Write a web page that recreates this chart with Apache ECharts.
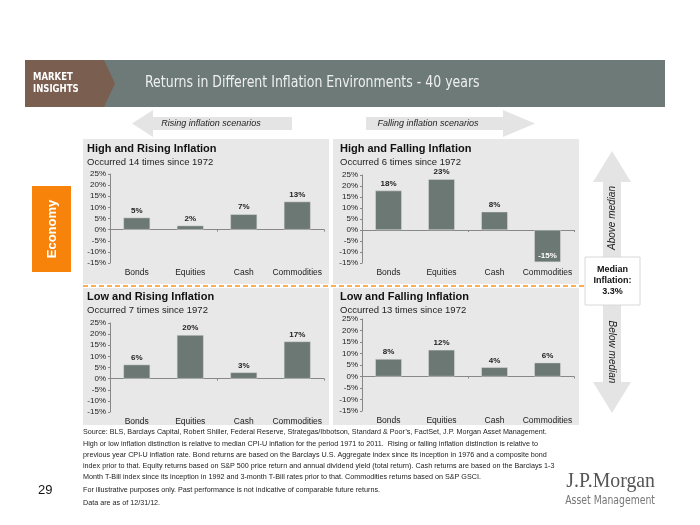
<!DOCTYPE html>
<html>
<head>
<meta charset="utf-8">
<script src="https://cdn.jsdelivr.net/npm/echarts@6.0.0/dist/echarts.min.js"></script>
<style>
  html, body { margin: 0; padding: 0; background: #fff; }
  #root { width: 700px; height: 525px; }
</style>
</head>
<body>
<div id="root"></div>
<script>
// data
var categories = ['Bonds', 'Equities', 'Cash', 'Commodities'];
var highRising = [5.4, 1.8, 6.9, 12.6];
var highFalling = [17.9, 23.1, 8.3, -14.6];
var lowRising = [6.3, 19.6, 2.8, 16.7];
var lowFalling = [7.6, 11.6, 4.0, 6.0];
var panelTitles = ['High and Rising Inflation', 'High and Falling Inflation', 'Low and Rising Inflation', 'Low and Falling Inflation'];
var panelSubs = ['Occurred 14 times since 1972', 'Occurred 6 times since 1972', 'Occurred 7 times since 1972', 'Occurred 13 times since 1972'];
var yMin = -15, yMax = 25, yStep = 5;

var footLines = [
  'Source: BLS, Barclays Capital, Robert Shiller, Federal Reserve, Strategas/Ibbotson, Standard & Poor\u2019s, FactSet, J.P. Morgan Asset Management.',
  'High or low inflation distinction is relative to median CPI-U inflation for the period 1971 to 2011.  Rising or falling inflation distinction is relative to',
  'previous year CPI-U inflation rate. Bond returns are based on the Barclays U.S. Aggregate index since its inception in 1976 and a composite bond',
  'index prior to that. Equity returns based on S&P 500 price return and annual dividend yield (total return). Cash returns are based on the Barclays 1-3',
  'Month T-Bill index since its inception in 1992 and 3-month T-Bill rates prior to that. Commodities returns based on S&P GSCI.',
  'For illustrative purposes only. Past performance is not indicative of comparable future returns.',
  'Data are as of 12/31/12.'
];

var FONT = 'Liberation Sans, Arial, sans-serif';
var NARROW = 'DejaVu Sans Condensed, sans-serif';
var BAR = '#6c7874';
var PANEL_BG = '#e8e8e8';

var chart = echarts.init(document.getElementById('root'));

// panel boxes and plot areas
var panels = [
  { x: 83, y: 139, w: 246, h: 145, grid: { left: 110, top: 174, width: 214, height: 89 } },
  { x: 333, y: 139, w: 246, h: 145, grid: { left: 362, top: 175, width: 212, height: 88 } },
  { x: 83, y: 288, w: 246, h: 137, grid: { left: 110, top: 323, width: 214, height: 89 } },
  { x: 333, y: 288, w: 246, h: 137, grid: { left: 362, top: 319, width: 212, height: 92 } }
];
var seriesData = [highRising, highFalling, lowRising, lowFalling];

var grids = [], xAxes = [], yAxes = [], series = [];
panels.forEach(function (p, i) {
  grids.push(p.grid);
  // labelled category axis at the bottom
  xAxes.push({
    type: 'category', gridIndex: i, data: categories, position: 'bottom',
    axisLine: { show: false, onZero: false }, axisTick: { show: false },
    axisLabel: { interval: 0, fontFamily: FONT, fontSize: 8.5, color: '#222', margin: 5 }
  });
  // zero line with ticks
  xAxes.push({
    type: 'category', gridIndex: i, data: categories, position: 'bottom',
    axisLine: { show: true, onZero: true, lineStyle: { color: '#888', width: 1 } },
    axisTick: { show: true, length: 2, lineStyle: { color: '#888' } },
    axisLabel: { show: false }
  });
  yAxes.push({
    type: 'value', gridIndex: i, min: yMin, max: yMax, interval: yStep,
    axisLine: { show: true, lineStyle: { color: '#888' } },
    axisTick: { show: true, length: 2, lineStyle: { color: '#888' } },
    splitLine: { show: false },
    axisLabel: { fontFamily: FONT, fontSize: 8, color: '#222', margin: 4, formatter: '{value}%' }
  });
  series.push({
    type: 'bar', xAxisIndex: i * 2, yAxisIndex: i, barWidth: '50%',
    itemStyle: { color: BAR, borderColor: '#dcdcdc', borderWidth: 0.5 },
    data: seriesData[i].map(function (v) {
      return v < 0
        ? { value: v, label: { position: 'insideBottom', color: '#fff', distance: 2 } }
        : v;
    }),
    label: {
      show: true, position: 'top', distance: 3, fontFamily: FONT, fontSize: 8,
      fontWeight: 'bold', color: '#222',
      formatter: function (d) { return Math.round(d.value) + '%'; }
    }
  });
});

var g = [];
// header band
g.push({ type: 'rect', shape: { x: 25, y: 60, width: 640, height: 47 }, style: { fill: '#6d7a77' } });
g.push({ type: 'polygon', shape: { points: [[25, 60], [104, 60], [115, 83.5], [104, 107], [25, 107]] }, style: { fill: '#7a5f51' } });
g.push({ type: 'text', x: 33, y: 77, scaleX: 0.9, style: { x: 0, y: 0, text: 'MARKET', fill: '#fff', font: 'bold 10.5px ' + NARROW, textVerticalAlign: 'middle' } });
g.push({ type: 'text', x: 33, y: 89, scaleX: 0.9, style: { x: 0, y: 0, text: 'INSIGHTS', fill: '#fff', font: 'bold 10.5px ' + NARROW, textVerticalAlign: 'middle' } });
g.push({ type: 'text', x: 145, y: 83, scaleX: 0.87, style: { x: 0, y: 0, text: 'Returns in Different Inflation Environments - 40 years', fill: '#eef0ef', font: '16px ' + NARROW, textVerticalAlign: 'middle' } });

// scenario arrows
g.push({ type: 'polygon', shape: { points: [[132, 123.5], [153, 110], [153, 117], [292, 117], [292, 130], [153, 130], [153, 137]] }, style: { fill: '#e4e4e4' } });
g.push({ type: 'text', style: { x: 211, y: 123.5, text: 'Rising inflation scenarios', fill: '#222', font: 'italic 9px ' + FONT, textAlign: 'center', textVerticalAlign: 'middle' } });
g.push({ type: 'polygon', shape: { points: [[366, 117], [503, 117], [503, 110], [535, 123.5], [503, 137], [503, 130], [366, 130]] }, style: { fill: '#e4e4e4' } });
g.push({ type: 'text', style: { x: 428, y: 123.5, text: 'Falling inflation scenarios', fill: '#222', font: 'italic 9px ' + FONT, textAlign: 'center', textVerticalAlign: 'middle' } });

// panels
panels.forEach(function (p, i) {
  g.push({ type: 'rect', z: -10, shape: { x: p.x, y: p.y, width: p.w, height: p.h }, style: { fill: PANEL_BG } });
  var ty = i < 2 ? 149 : 297;
  var tx = i % 2 === 0 ? p.x + 4 : p.x + 7;
  g.push({ type: 'text', style: { x: tx, y: ty, text: panelTitles[i], fill: '#111', font: 'bold 11px ' + FONT, textVerticalAlign: 'middle' } });
  g.push({ type: 'text', style: { x: tx, y: ty + 13, text: panelSubs[i], fill: '#222', font: '9.5px ' + FONT, textVerticalAlign: 'middle' } });
});

// dashed median divider
g.push({ type: 'line', shape: { x1: 83, y1: 286, x2: 586, y2: 286 }, style: { stroke: '#f7941d', lineWidth: 1.5, lineDash: [5, 3] } });

// economy tab
g.push({ type: 'rect', shape: { x: 32, y: 186, width: 39, height: 86 }, style: { fill: '#f7830b' } });
g.push({ type: 'text', x: 52, y: 229, rotation: Math.PI / 2, style: { x: 0, y: 0, text: 'Economy', fill: '#fff', font: 'bold 13px ' + FONT, textAlign: 'center', textVerticalAlign: 'middle' } });

// vertical double arrow
g.push({ type: 'polygon', shape: { points: [[612, 151], [631, 182], [621, 182], [621, 382], [631, 382], [612, 413], [593, 382], [603, 382], [603, 182], [593, 182]] }, style: { fill: '#e4e4e4' } });
g.push({ type: 'text', x: 612, y: 218, rotation: Math.PI / 2, style: { x: 0, y: 0, text: 'Above median', fill: '#222', font: 'italic 10px ' + FONT, textAlign: 'center', textVerticalAlign: 'middle' } });
g.push({ type: 'text', x: 612, y: 352, rotation: -Math.PI / 2, style: { x: 0, y: 0, text: 'Below median', fill: '#222', font: 'italic 10px ' + FONT, textAlign: 'center', textVerticalAlign: 'middle' } });
g.push({ type: 'rect', shape: { x: 585, y: 257, width: 55, height: 48 }, style: { fill: '#fff', stroke: '#d8d8d8', lineWidth: 1 } });
['Median', 'Inflation:', '3.3%'].forEach(function (t, k) {
  g.push({ type: 'text', style: { x: 612.5, y: 270 + k * 11, text: t, fill: '#111', font: 'bold 9px ' + FONT, textAlign: 'center', textVerticalAlign: 'middle' } });
});

// footnotes
var footY = [432, 444, 455, 466, 477, 490, 503];
footLines.forEach(function (t, k) {
  g.push({ type: 'text', style: { x: 83, y: footY[k], text: t, fill: '#222', font: '7.2px ' + FONT, textVerticalAlign: 'middle' } });
});
g.push({ type: 'text', style: { x: 38, y: 490, text: '29', fill: '#111', font: '13px ' + FONT, textVerticalAlign: 'middle' } });

// logo
g.push({ type: 'text', x: 655, y: 481, scaleX: 0.9, style: { x: 0, y: 0, text: 'J.P.Morgan', fill: '#555', font: '22px Liberation Serif, serif', textAlign: 'right', textVerticalAlign: 'middle' } });
g.push({ type: 'text', x: 655, y: 501, scaleX: 0.9, style: { x: 0, y: 0, text: 'Asset Management', fill: '#777', font: '11.5px ' + NARROW, textAlign: 'right', textVerticalAlign: 'middle' } });

chart.setOption({
  animation: false,
  grid: grids,
  xAxis: xAxes,
  yAxis: yAxes,
  series: series,
  graphic: { elements: g }
});
</script>
</body>
</html>
